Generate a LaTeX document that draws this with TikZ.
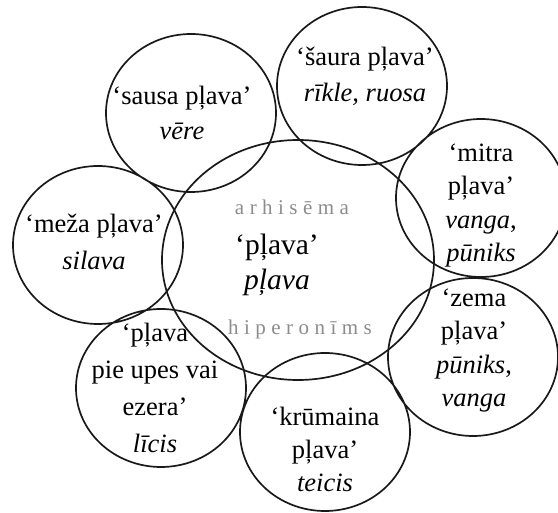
\documentclass[tikz,border=0pt]{standalone}
\usepackage{fontspec}
\setmainfont{Liberation Serif}
\newfontfamily\spacedfont[LetterSpace=26]{Liberation Serif}
\definecolor{archgray}{gray}{0.55}
\tikzset{
  word/.style={align=center,anchor=base,inner sep=0pt,font=\fontsize{26.5}{#1}\selectfont},
  word/.default=34,
  grayword/.style={anchor=base,inner sep=0pt,text=archgray,font=\spacedfont\fontsize{21}{22}\selectfont}
}

\begin{document}
\begin{tikzpicture}[x=1pt,y=-1pt,line width=1.7pt,line cap=round,line join=round]
\useasboundingbox (0,0) rectangle (558,513);
\draw[black!90] (298,260) ellipse [x radius=136,y radius=120];
\draw[black!90]
(191,113) ellipse [x radius=85,y radius=79]
(362,86) ellipse [x radius=85,y radius=79]
(481,198) ellipse [x radius=85,y radius=79]
(473,357) ellipse [x radius=85,y radius=79]
(325,432) ellipse [x radius=85,y radius=79]
(161,388) ellipse [x radius=85,y radius=79]
(98,245) ellipse [x radius=85,y radius=79];
% centre (base = last line)
\node[grayword] (arhisema) at (292,215) {arhisēma};
\node[word,font=\fontsize{29.5}{35}\selectfont] (plava) at (277,290) {‘pļava’\\\textit{pļava}};
\node[grayword] (hiperonims) at (300,335) {hiperonīms};
% round it
\node[word=35] (sausa) at (182,140) {‘sausa pļava’\\\textit{vēre}};
\node[word=36] (saura) at (365,102) {‘šaura pļava’\\\textit{rīkle, ruosa}};
\node[word=33.5] (mitra) at (481,262) {‘mitra\\pļava’\\\textit{vanga},\\\textit{pūniks}};
\node[word=33.5] (zema) at (474,407) {‘zema\\pļava’\\\textit{pūniks},\\\textit{vanga}};
\node[word=33] (krumaina) at (325,492) {‘krūmaina\\pļava’\\\textit{teicis}};
\node[word=37] (upes) at (155,453) {‘pļava\\pie upes vai\\ezera’\\\textit{līcis}};
\node[word=37] (meza) at (94,270) {‘meža pļava’\\\textit{silava}};
\end{tikzpicture}
\end{document}
